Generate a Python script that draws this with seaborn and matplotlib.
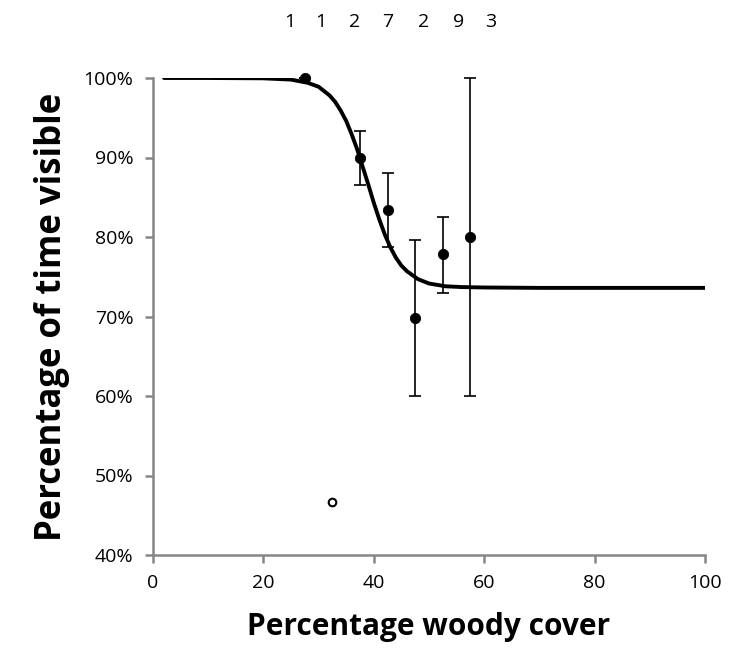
import matplotlib
matplotlib.use("Agg")
import matplotlib.pyplot as plt
import matplotlib.transforms as mtransforms
import seaborn as sns
from matplotlib.ticker import FuncFormatter

# Binned observations
bin_x = [27.5, 37.5, 42.5, 47.5, 52.5, 57.5]
bin_y = [100.0, 90.0, 83.4, 69.8, 77.8, 80.0]
err_lo = [100.0, 86.6, 78.7, 60.0, 73.0, 60.0]
err_hi = [100.0, 93.3, 88.0, 79.6, 82.5, 100.0]

# Outlier (open circle)
out_x = [32.5]
out_y = [46.7]

# Fitted curve
curve_x = [2, 10, 20, 25, 28, 30, 32, 33, 34, 35, 36, 37, 38, 39, 40, 41, 42, 43,
           44, 45, 46, 48, 50, 53, 56, 60, 70, 80, 100]
curve_y = [100.0, 100.0, 99.96, 99.8, 99.4, 98.9, 97.8, 97.0, 95.9, 94.6, 92.9,
           91.0, 88.8, 86.6, 84.3, 82.2, 80.3, 78.7, 77.4, 76.4, 75.7, 74.7, 74.15,
           73.8, 73.7, 73.65, 73.6, 73.6, 73.6]

# Sample counts shown on top
count_labels = ["1", "1", "2", "7", "2", "9", "3"]
count_pos = [24.8, 30.3, 36.6, 42.6, 49.1, 55.4, 61.2]

sns.set_theme(style="white")
plt.rcParams['font.family'] = ['Open Sans', 'DejaVu Sans']

fig = plt.figure(figsize=(7.29, 6.57), dpi=100)
ax = fig.add_axes([153/729, 1 - 555/657, (705-153)/729, (555-78)/657])

gray = "#868686"

sns.lineplot(x=curve_x, y=curve_y, ax=ax, color="black", linewidth=2.8,
             sort=False, estimator=None)

yerr = [[b - l for b, l in zip(bin_y, err_lo)], [h - b for b, h in zip(bin_y, err_hi)]]
ax.errorbar(bin_x, bin_y, yerr=yerr, fmt="none", ecolor="black", elinewidth=1.2,
            capsize=4, capthick=1.2, clip_on=False, zorder=3)

sns.scatterplot(x=bin_x, y=bin_y, ax=ax, color="black", s=55, edgecolor="black",
                zorder=4, clip_on=False)
sns.scatterplot(x=out_x, y=out_y, ax=ax, facecolor="white", edgecolor="black",
                s=30, linewidth=1.5, zorder=4)

ax.set_xlim(0, 100)
ax.set_ylim(40, 100)
ax.set_xticks([0, 20, 40, 60, 80, 100])
ax.set_yticks([40, 50, 60, 70, 80, 90, 100])
ax.yaxis.set_major_formatter(FuncFormatter(lambda v, p: f"{int(v)}%"))

for s in ["top", "right"]:
    ax.spines[s].set_visible(False)
for s in ["left", "bottom"]:
    ax.spines[s].set_color(gray)
    ax.spines[s].set_linewidth(1.8)

ax.tick_params(axis="both", which="major", direction="out", length=6, width=1.8,
               color=gray, labelsize=14, labelcolor="black", pad=8,
               left=True, bottom=True)

ax.set_xlabel("Percentage woody cover", fontsize=21.5, fontweight="bold",
              labelpad=14, color="black")
ax.set_ylabel("Percentage of time visible", fontsize=25, fontweight="bold",
              labelpad=10, color="black")

trans = mtransforms.blended_transform_factory(ax.transData, fig.transFigure)
for lbl, xp in zip(count_labels, count_pos):
    ax.text(xp, 1 - 22/657, lbl, transform=trans, ha="center", va="center",
            fontsize=14, color="black")

fig.savefig("out.png", dpi=100)
